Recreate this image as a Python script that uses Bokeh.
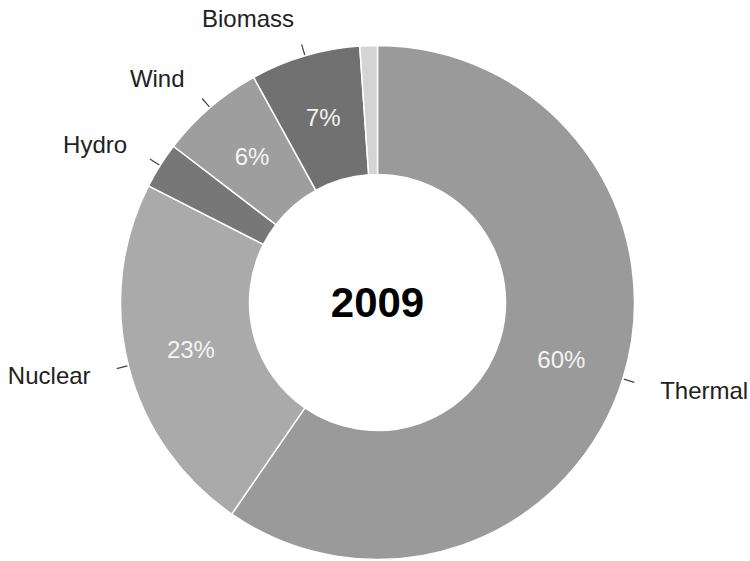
import math
from bokeh.plotting import figure
from bokeh.models import Range1d, ColumnDataSource
from bokeh.core.properties import value
from bokeh.embed import file_html
from bokeh.resources import INLINE

# ---- data ----
categories = ["Thermal", "Nuclear", "Hydro", "Wind", "Biomass", "Other"]
shares = [59.6, 22.9, 2.9, 6.6, 6.9, 1.1]
pct_labels = ["60%", "23%", "", "6%", "7%", ""]
show_name = [True, True, True, True, True, False]
colors = ["#9a9a9a", "#aaaaaa", "#777777", "#9e9e9e", "#717171", "#d4d4d4"]
center_title = "2009"

# ---- layout ----
W, H = 750, 561
CX, CY = 377, 302
R_OUT, R_IN = 257, 128
R_MID = (R_OUT + R_IN) / 2
R_TICK0, R_TICK1 = R_OUT + 1, R_OUT + 12
R_LABEL = 296
FONT = value("Liberation Sans")

p = figure(width=W, height=H,
           x_range=Range1d(-CX, W - CX), y_range=Range1d(-(H - CY), CY),
           output_backend="svg", toolbar_location=None,
           min_border=0, min_border_left=0, min_border_right=0,
           min_border_top=0, min_border_bottom=0)
p.axis.visible = False
p.grid.visible = False
p.outline_line_color = None
p.background_fill_color = "white"
p.border_fill_color = "white"

total = float(sum(shares))
starts, ends, mids = [], [], []
cum = 0.0
for s in shares:
    a0 = cum / total * 2 * math.pi
    cum += s
    a1 = cum / total * 2 * math.pi
    starts.append(math.pi / 2 - a0)
    ends.append(math.pi / 2 - a1)
    mids.append((a0 + a1) / 2)  # clockwise from top

src = ColumnDataSource(dict(start=starts, end=ends, color=colors, cat=categories))
p.annular_wedge(x=0, y=0, inner_radius=R_IN, outer_radius=R_OUT,
                start_angle="start", end_angle="end", direction="clock",
                fill_color="color", line_color="white", line_width=1.5,
                source=src)

# percent labels inside the ring
px, py, pt = [], [], []
for m, t in zip(mids, pct_labels):
    if t:
        px.append(R_MID * math.sin(m))
        py.append(R_MID * math.cos(m))
        pt.append(t)
p.text(x=px, y=py, text=pt, text_align="center", text_baseline="middle",
       text_font=FONT, text_font_size="24px", text_color="#f4f4f4")

# leader ticks and names
tx0, ty0, tx1, ty1 = [], [], [], []
lx_r, ly_r, lt_r = [], [], []
lx_l, ly_l, lt_l = [], [], []
for m, name, show in zip(mids, categories, show_name):
    if not show:
        continue
    sx, cy = math.sin(m), math.cos(m)
    tx0.append(R_TICK0 * sx); ty0.append(R_TICK0 * cy)
    tx1.append(R_TICK1 * sx); ty1.append(R_TICK1 * cy)
    lx, ly = R_LABEL * sx, R_LABEL * cy
    if m < math.pi:
        lx_r.append(lx); ly_r.append(ly); lt_r.append(name)
    else:
        lx_l.append(lx); ly_l.append(ly); lt_l.append(name)

p.segment(x0=tx0, y0=ty0, x1=tx1, y1=ty1, line_color="#444444", line_width=1.2)
p.text(x=lx_r, y=ly_r, text=lt_r, text_align="left", text_baseline="middle",
       text_font=FONT, text_font_size="24px", text_color="#222222")
p.text(x=lx_l, y=ly_l, text=lt_l, text_align="right", text_baseline="middle",
       text_font=FONT, text_font_size="24px", text_color="#222222")

# center title
p.text(x=[0], y=[0], text=[center_title], text_align="center", text_baseline="middle",
       text_font=FONT, text_font_size="42px", text_font_style="bold",
       text_color="#000000")

open("out.html", "w").write(file_html(p, INLINE))
